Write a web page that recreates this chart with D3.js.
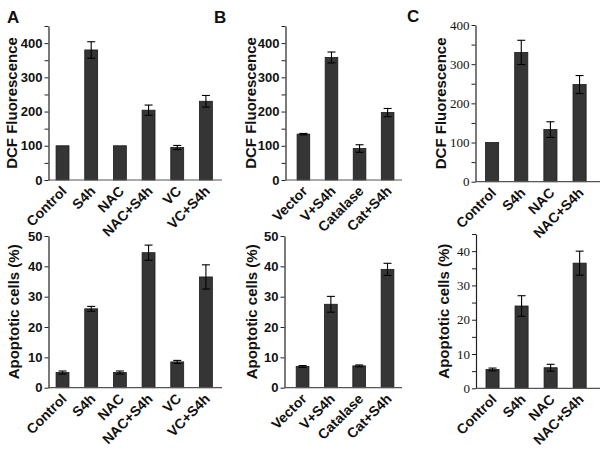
<!DOCTYPE html>
<html><head><meta charset="utf-8">
<script src="https://cdn.jsdelivr.net/npm/d3@7"></script>
<style>body{margin:0;background:#fff}svg{display:block}</style>
</head><body>
<svg id="c" width="600" height="453"></svg>
<script>
// ---- data ----
const catsA = ["Control","S4h","NAC","NAC+S4h","VC","VC+S4h"];
const dcfA = [100, 380, 100, 204, 95, 230];
const dcfAErr = [0, 24, 0, 15, 6, 17];
const apoA = [5, 26, 5, 44.5, 8.5, 36.5];
const apoAErr = [0.5, 0.8, 0.5, 2.5, 0.5, 4];

const catsB = ["Vector","V+S4h","Catalase","Cat+S4h"];
const dcfB = [134, 358, 92, 197];
const dcfBErr = [2, 16, 11, 12];
const apoB = [7, 27.5, 7.2, 39];
const apoBErr = [0.3, 2.6, 0.3, 2];

const catsC = ["Control","S4h","NAC","NAC+S4h"];
const dcfC = [100, 330, 133, 248];
const dcfCErr = [0, 31, 20, 23];
const apoC = [5.5, 24, 6, 36.5];
const apoCErr = [0.4, 3, 1, 3.5];

const dcfTicksAB = [0,100,200,300,400];
const dcfTicksC = [0,100,200,300,400];
const apoTicksAB = [0,10,20,30,40,50];
const apoTicksC = [0,10,20,30,40];

const dcfTitle = "DCF Fluorescence";
const apoTitle = "Apoptotic cells (%)";

// ---- drawing ----
const svg = d3.select("#c");
const sans = "'Liberation Sans', Arial, sans-serif";
const serif = "'Liberation Serif', 'Times New Roman', serif";

function panel(o) {
  const g = svg.append("g");
  const y = d3.scaleLinear().domain([0, o.ymax]).range([o.y0, o.y1]);
  const x = d3.scaleBand().domain(o.cats).range([o.x0, o.x1])
    .paddingInner(0.55).paddingOuter(o.po).align(o.align);
  // bars
  g.selectAll("rect.bar").data(o.cats).join("rect")
    .attr("x", d => x(d)).attr("width", x.bandwidth())
    .attr("y", (d,i) => y(o.vals[i])).attr("height", (d,i) => o.y0 - y(o.vals[i]))
    .attr("fill", "#353535").attr("stroke", "#1a1a1a").attr("stroke-width", 0.8);
  // error bars
  o.cats.forEach((c,i) => {
    const e = o.errs[i]; if (!e) return;
    const cx = x(c) + x.bandwidth()/2;
    const t = y(o.vals[i]+e), b = y(o.vals[i]-e);
    g.append("line").attr("x1",cx).attr("x2",cx).attr("y1",t).attr("y2",b).attr("stroke","#000").attr("stroke-width",1.1);
    [t,b].forEach(yy => g.append("line").attr("x1",cx-4).attr("x2",cx+4).attr("y1",yy).attr("y2",yy).attr("stroke","#000").attr("stroke-width",1.1));
  });
  // y axis
  const minor = d3.range(0, o.ymax + 1e-9, o.minorStep);
  const ya = g.append("g").attr("transform", `translate(${o.x0},0)`)
    .call(d3.axisLeft(y).tickValues(minor).tickSize(4).tickSizeOuter(0)
      .tickFormat(d => o.ticks.includes(d) ? d : ""));
  ya.attr("font-family", null);
  ya.select(".domain").attr("stroke", "#222").attr("stroke-width", 1.2);
  ya.selectAll(".tick line").attr("stroke", "#222");
  ya.selectAll("text").style("font-family", o.serif ? serif : sans)
    .attr("font-weight", o.serif ? "normal" : "bold")
    .attr("font-size", 13).attr("fill", "#111").attr("x", -6);
  // x axis line
  g.append("line").attr("x1", o.x0).attr("x2", o.x1).attr("y1", o.y0).attr("y2", o.y0)
    .attr("stroke", "#555").attr("stroke-width", 1.2);
  // x labels
  o.cats.forEach(c => {
    const cx = x(c) + x.bandwidth()/2;
    g.append("text").attr("transform", `translate(${cx+5},${o.y0+12}) rotate(-45)`)
      .attr("text-anchor", "end").attr("font-family", sans).attr("font-weight", "bold")
      .attr("font-size", 14).attr("fill", "#111").text(c);
  });
  // y title
  g.append("text").attr("transform", `translate(${o.tx},${(o.y0+o.y1)/2}) rotate(-90)`)
    .attr("text-anchor", "middle").attr("dominant-baseline", "middle")
    .attr("font-family", sans).attr("font-weight", "bold").attr("font-size", 15)
    .attr("fill", "#111").text(o.title);
}

const colA = {x0: 48.5, x1: 222, po: 0.3, align: 0.44, cats: catsA};
const colB = {x0: 285.5, x1: 402, po: 0.35, align: 0.59, cats: catsB};
const colC = {x0: 475.5, x1: 600, po: 0.41, align: 0.42, cats: catsC};

panel({...colA, y0: 180, y1: 26, ymax: 450, vals: dcfA, errs: dcfAErr, ticks: dcfTicksAB, minorStep: 50, tx: 13, title: dcfTitle});
panel({...colB, y0: 180, y1: 26, ymax: 450, vals: dcfB, errs: dcfBErr, ticks: dcfTicksAB, minorStep: 50, tx: 252, title: dcfTitle});
panel({...colC, y0: 181.7, y1: 25, ymax: 400, vals: dcfC, errs: dcfCErr, ticks: dcfTicksC, minorStep: 50, tx: 442, title: dcfTitle, serif: true});

panel({...colA, y0: 387.7, y1: 236, ymax: 50, vals: apoA, errs: apoAErr, ticks: apoTicksAB, minorStep: 10, tx: 15, title: apoTitle});
panel({...colB, x0: 284.5, y0: 387.7, y1: 236, ymax: 50, vals: apoB, errs: apoBErr, ticks: apoTicksAB, minorStep: 10, tx: 253, title: apoTitle});
panel({...colC, x0: 476, y0: 388.3, y1: 234, ymax: 45, vals: apoC, errs: apoCErr, ticks: apoTicksC, minorStep: 5, tx: 445, title: apoTitle, serif: true});

// panel letters
[["A", 7, 23], ["B", 214, 23], ["C", 407, 22]].forEach(([t,x,yy]) =>
  svg.append("text").attr("x", x).attr("y", yy).attr("font-family", sans)
    .attr("font-weight", "bold").attr("font-size", 17).attr("fill", "#111").text(t));
</script>
</body></html>
